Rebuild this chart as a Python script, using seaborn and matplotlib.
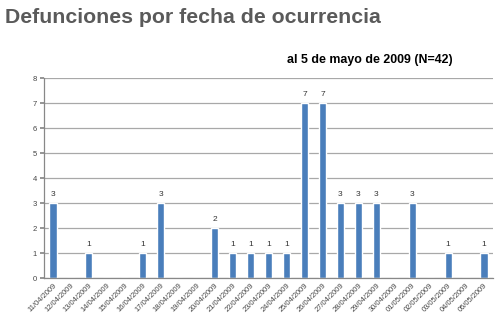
import matplotlib
matplotlib.use("Agg")
import matplotlib.pyplot as plt
import seaborn as sns
import pandas as pd

fechas = ["11/04/2009", "12/04/2009", "13/04/2009", "14/04/2009", "15/04/2009",
          "16/04/2009", "17/04/2009", "18/04/2009", "19/04/2009", "20/04/2009",
          "21/04/2009", "22/04/2009", "23/04/2009", "24/04/2009", "25/04/2009",
          "26/04/2009", "27/04/2009", "28/04/2009", "29/04/2009", "30/04/2009",
          "01/05/2009", "02/05/2009", "03/05/2009", "04/05/2009", "05/05/2009"]
defunciones = [3, 0, 1, 0, 0, 1, 3, 0, 0, 2, 1, 1, 1, 1, 7, 7, 3, 3, 3, 0, 3, 0, 1, 0, 1]
y_ticks = [0, 1, 2, 3, 4, 5, 6, 7, 8]

titulo = "Defunciones por fecha de ocurrencia"
subtitulo = "al 5 de mayo de 2009 (N=42)"

sns.set_theme(style="white")
plt.rcParams['font.family'] = ['Liberation Sans', 'DejaVu Sans']

df = pd.DataFrame({"fecha": fechas, "n": defunciones})

fig = plt.figure(figsize=(5.0, 3.35), dpi=100)
ax = fig.add_axes([0.088, 0.170, 0.898, 0.597])

sns.barplot(data=df, x="fecha", y="n", color="#4a7ebb", saturation=1,
            width=0.4, ax=ax, order=fechas)

ax.set_ylim(0, 8)
ax.set_xlim(-0.5, len(fechas) - 0.5)
ax.set_yticks(y_ticks)
ax.set_yticklabels([str(v) for v in y_ticks], fontsize=5.5, color="#444444")
ax.yaxis.grid(True, color="#a8a8a8", linewidth=0.9)
ax.set_axisbelow(True)
ax.set_xlabel("")
ax.set_ylabel("")
ax.set_xticks(range(len(fechas)))
ax.set_xticklabels(fechas, rotation=45, ha="right", rotation_mode="anchor",
                   fontsize=5.4, color="#444444")
ax.tick_params(axis="x", length=0, pad=3)
ax.tick_params(axis="y", length=3, pad=2, color="#888888", left=True)
for s in ["top", "right"]:
    ax.spines[s].set_visible(False)
for s in ["left", "bottom"]:
    ax.spines[s].set_color("#888888")
    ax.spines[s].set_linewidth(0.9)

for i, v in enumerate(defunciones):
    if v > 0:
        ax.text(i, v + 0.2, str(v), ha="center", va="bottom", fontsize=6, color="#333333")

fig.text(0.01, 0.947, titulo, fontsize=15.3, fontweight="bold", color="#5a5a5a",
         ha="left", va="center")
fig.text(0.574, 0.82, subtitulo, fontsize=8.9, fontweight="bold", color="#000000",
         ha="left", va="center")

fig.savefig("out.png", dpi=100)
